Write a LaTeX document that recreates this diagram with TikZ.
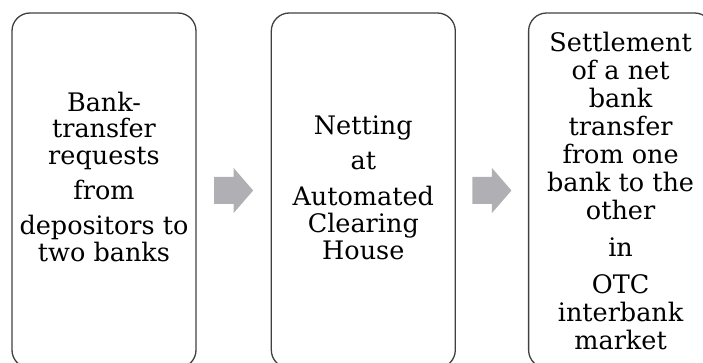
\documentclass[tikz,border=0pt]{standalone}
\usepackage{fontspec}
\setmainfont{DejaVu Serif}
\usetikzlibrary{calc,positioning}

\definecolor{boxline}{RGB}{64,64,64}
\definecolor{arrowgray}{RGB}{176,176,180}

\tikzset{
  stagebox/.style={draw=boxline, line width=1.3pt, rounded corners=18pt,
    minimum width=184pt, minimum height=355pt, inner sep=0pt},
  stagetext/.style={align=center, inner sep=0pt,
    font=\fontsize{25.5}{26.8}\selectfont},
  blockarrow/.pic={
    \fill[arrowgray] (-19.5,-13.5) -- (0,-13.5) -- (0,-22.5) -- (19.5,0)
      -- (0,22.5) -- (0,13.5) -- (-19.5,13.5) -- cycle;
  }
}

\begin{document}
\begin{tikzpicture}[x=1pt,y=-1pt]
\useasboundingbox (0,0) rectangle (703,363);
\clip (0,0) rectangle (703,363);

% three stages
\node[stagebox] (requests) at (104,190.5) {};
\node[stagebox, right=74pt of requests] (netting) {};
\node[stagebox, right=72pt of netting] (settle) {};

\node[stagetext] (requests-text) at ([yshift=14pt]requests.center)
  {Bank-\\transfer\\requests\\[8pt]from\\[8pt]depositors to\\two banks};
\node[stagetext] (netting-text) at ([yshift=3pt]netting.center)
  {Netting\\[9pt]at\\[9pt]Automated\\Clearing\\House};
\node[stagetext, font=\fontsize{25.5}{28}\selectfont] (settle-text) at (settle.center)
  {Settlement\\of a net\\bank\\transfer\\from one\\bank to the\\other\\[9pt]in\\[9pt]OTC\\interbank\\market};

% arrows between them
\coordinate (a1) at ($(requests.east)!0.5!(netting.west)$);
\coordinate (a2) at ($(netting.east)!0.5!(settle.west)$);
\pic at (a1) {blockarrow};
\pic at (a2) {blockarrow};

\end{tikzpicture}
\end{document}
